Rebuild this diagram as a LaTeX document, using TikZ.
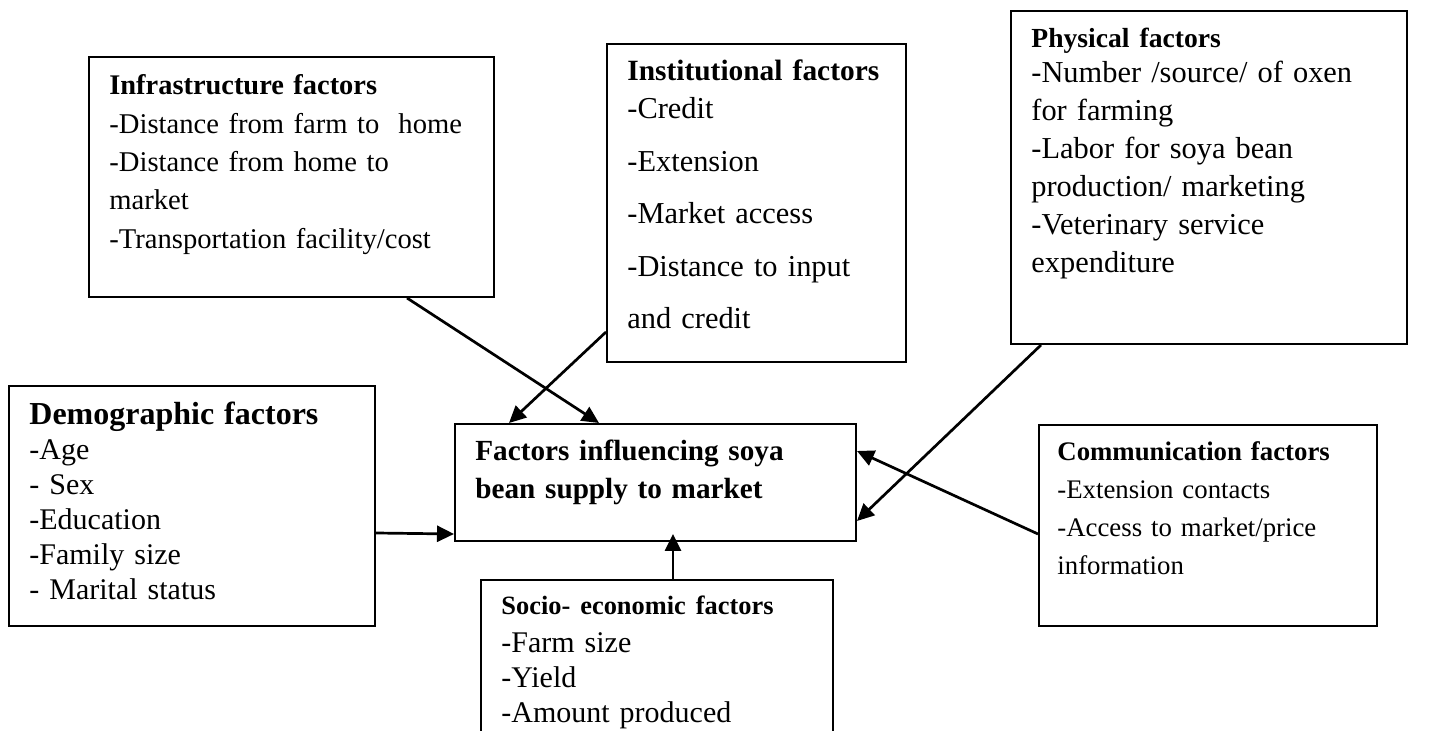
\documentclass[tikz,border=0pt]{standalone}
\usepackage{fontspec}
\setmainfont{Liberation Serif}
\usetikzlibrary{arrows.meta, fit}

\begin{document}
\begin{tikzpicture}[
    x=0.5pt, y=-0.5pt,
    factor/.style={draw, line width=1pt, inner sep=0pt, fit={#1}},
    items/.style 2 args={anchor=base west, inner sep=0pt, text width=200pt, align=left, font=\fontsize{#1}{#2}\selectfont},
    link/.style={line width=1.35pt, -{Triangle[length=8.5pt, width=8pt]}}
]
\useasboundingbox (0,0) rectangle (1429,731);
\clip (0,0) rectangle (1429,731);

\node[factor={(89,57) (494,297)}] (infra) {};
\node[factor={(607,44) (906,362)}] (inst) {};
\node[factor={(1011,11) (1407,344)}] (phys) {};
\node[factor={(9,386) (375,626)}] (demo) {};
\node[factor={(455,424) (856,541)}] (centre) {};
\node[factor={(481,580) (833,770)}] (socio) {};
\node[factor={(1039,425) (1377,626)}] (comm) {};

\node[items={14.3}{19.15}] (infra text) at ([shift={(21,39)}]infra.north west)
    {{\bfseries\fontsize{14.2}{19}\selectfont Infrastructure factors}\\
     -Distance from farm to \ home\\
     -Distance from home to\\
     market\\
     -Transportation facility/cost};
\node[items={15.2}{19}] (inst text) at ([shift={(21,38)}]inst.north west)
    {{\bfseries\fontsize{14.7}{19}\selectfont Institutional factors}\\
     -Credit\\[7.25pt]
     -Extension\\[7.25pt]
     -Market access\\[7.25pt]
     -Distance to input\\[7.25pt]
     and credit};
\node[items={15.2}{19}] (phys text) at ([shift={(21,38)}]phys.north west)
    {{\bfseries\fontsize{13.8}{19}\selectfont Physical factors}\\[-1.5pt]
     -Number /source/ of oxen\\
     for farming\\
     -Labor for soya bean\\
     production/ marketing\\
     -Veterinary service\\
     expenditure};
\node[items={15}{17.5}] (demo text) at ([shift={(21,40)}]demo.north west)
    {{\bfseries\fontsize{16}{17.5}\selectfont Demographic factors}\\
     -Age\\
     - Sex\\
     -Education\\
     -Family size\\
     - Marital status};
\node[items={14.6}{19}] (centre text) at ([shift={(21,38)}]centre.north west)
    {\bfseries Factors influencing soya\\
     bean supply to market};
\node[items={15}{17.5}] (socio text) at ([shift={(21,35)}]socio.north west)
    {{\bfseries\fontsize{13.2}{17.5}\selectfont Socio- economic factors}\\[1.5pt]
     -Farm size\\
     -Yield\\
     -Amount produced};
\node[items={13.4}{19}] (comm text) at ([shift={(19,37)}]comm.north west)
    {{\bfseries Communication factors}\\
     -Extension contacts\\
     -Access to market/price\\
     information};

\draw[link] ([xshift=159.5pt]infra.south west) -- ([xshift=72.5pt]centre.north west);
\draw[link] ([yshift=15.5pt]inst.south west) -- ([xshift=27.5pt]centre.north west);
\draw[link] ([xshift=15.5pt]phys.south west) -- ([yshift=10.5pt]centre.south east);
\draw[link] ([yshift=46.5pt]comm.south west) -- ([yshift=-14pt]centre.north east);
\draw[link] ([yshift=-13.5pt]demo.east) -- ([yshift=4pt]centre.south west);
\coordinate (socio top) at ([xshift=8pt]socio.north);
\draw[link, shorten >=-4pt] (socio top) -- (socio top |- centre.south);
\end{tikzpicture}
\end{document}
